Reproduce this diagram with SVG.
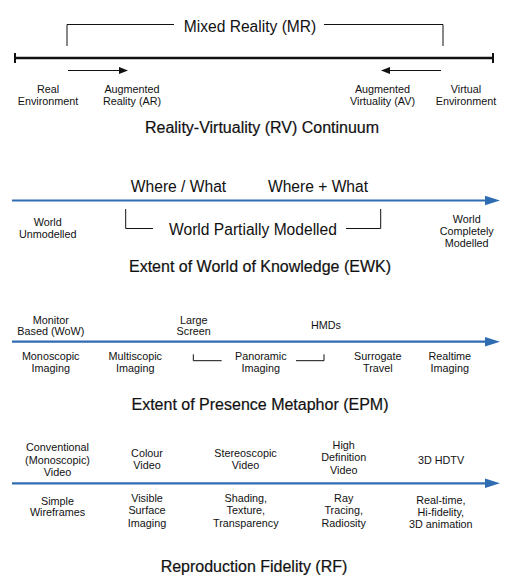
<svg xmlns="http://www.w3.org/2000/svg" width="512" height="588" viewBox="0 0 512 588">
<defs>
<style>
text{font-family:"Liberation Sans",Arial,Helvetica,sans-serif;fill:#111;text-anchor:middle}
.s{font-size:10.8px}
.m{font-size:15.6px}
.t{font-size:16px;stroke:#111;stroke-width:0.2px}
.blk{stroke:#111;fill:none}
.blue{stroke:#2f6db3;stroke-width:2.2;fill:none}
</style>
<marker id="ah" markerWidth="9" markerHeight="7" refX="8" refY="3.5" orient="auto" markerUnits="userSpaceOnUse">
<path d="M0,0 L9,3.5 L0,7 Z" fill="#111"/>
</marker>
</defs>
<rect width="512" height="588" fill="#fff"/>

<g id="connectors">
<!-- RV continuum -->
<line class="blk" x1="15" y1="58" x2="493" y2="58" stroke-width="2.5"/>
<line class="blk" x1="15" y1="53" x2="15" y2="63" stroke-width="2"/>
<line class="blk" x1="493" y1="53" x2="493" y2="63" stroke-width="2"/>
<path class="blk" d="M67,46 V24.5 H174" stroke-width="1"/>
<path class="blk" d="M324,24.5 H443 V46" stroke-width="1"/>
<line class="blk" x1="68" y1="70.5" x2="127" y2="70.5" stroke-width="1.2" marker-end="url(#ah)"/>
<line class="blk" x1="441" y1="70.5" x2="382" y2="70.5" stroke-width="1.2" marker-end="url(#ah)"/>
<!-- EWK -->
<line class="blue" x1="12" y1="200.5" x2="487" y2="200.5"/>
<path d="M485,195.8 L500,200.5 L485,205.2 Z" fill="#2f6db3"/>
<path class="blk" d="M125.7,209 V228.5 H153" stroke-width="1"/>
<path class="blk" d="M346,228.5 H380.7 V209" stroke-width="1"/>
<!-- EPM -->
<line class="blue" x1="12" y1="341.7" x2="487" y2="341.7"/>
<path d="M485,337 L500,341.7 L485,346.4 Z" fill="#2f6db3"/>
<path class="blk" d="M193.3,354.3 V360.7 H221.7" stroke-width="1"/>
<path class="blk" d="M296,360.7 H324 V354.3" stroke-width="1"/>
<!-- RF -->
<line class="blue" x1="12" y1="483.3" x2="487" y2="483.3"/>
<path d="M485,478.6 L500,483.3 L485,488 Z" fill="#2f6db3"/>
</g>

<g id="rv">
<g id="mr-label"><text class="m" x="250" y="32">Mixed Reality (MR)</text></g>
<g id="real-env"><text class="s" x="48"><tspan x="48" y="93">Real</tspan><tspan x="48" y="105">Environment</tspan></text></g>
<g id="ar"><text class="s" x="132"><tspan x="132" y="93">Augmented</tspan><tspan x="132" y="105">Reality (AR)</tspan></text></g>
<g id="av"><text class="s" x="382.5"><tspan x="382.5" y="93">Augmented</tspan><tspan x="382.5" y="105">Virtuality (AV)</tspan></text></g>
<g id="virtual-env"><text class="s" x="466"><tspan x="466" y="93">Virtual</tspan><tspan x="466" y="105">Environment</tspan></text></g>
<g id="rv-title"><text class="t" x="262" y="133">Reality-Virtuality (RV) Continuum</text></g>
</g>

<g id="ewk">
<g id="where-what"><text class="m" x="178.5" y="192">Where / What</text></g>
<g id="where-plus-what"><text class="m" x="318" y="192">Where + What</text></g>
<g id="partial"><text class="m" x="253" y="235">World Partially Modelled</text></g>
<g id="unmodelled"><text class="s"><tspan x="47.7" y="226">World</tspan><tspan x="47.7" y="238">Unmodelled</tspan></text></g>
<g id="complete"><text class="s"><tspan x="466.7" y="223">World</tspan><tspan x="466.7" y="235">Completely</tspan><tspan x="466.7" y="247">Modelled</tspan></text></g>
<g id="ewk-title"><text class="t" x="260" y="272">Extent of World of Knowledge (EWK)</text></g>
</g>

<g id="epm">
<g id="monitor"><text class="s"><tspan x="50.8" y="323.5">Monitor</tspan><tspan x="50.8" y="334.5">Based (WoW)</tspan></text></g>
<g id="large-screen"><text class="s"><tspan x="193.7" y="323.5">Large</tspan><tspan x="193.7" y="335">Screen</tspan></text></g>
<g id="hmds"><text class="s" x="326" y="329">HMDs</text></g>
<g id="mono"><text class="s"><tspan x="50.7" y="360">Monoscopic</tspan><tspan x="50.7" y="372">Imaging</tspan></text></g>
<g id="multi"><text class="s"><tspan x="135.3" y="360">Multiscopic</tspan><tspan x="135.3" y="372">Imaging</tspan></text></g>
<g id="pano"><text class="s"><tspan x="260.8" y="360">Panoramic</tspan><tspan x="260.8" y="372">Imaging</tspan></text></g>
<g id="surrogate"><text class="s"><tspan x="377.8" y="360">Surrogate</tspan><tspan x="377.8" y="372">Travel</tspan></text></g>
<g id="realtime"><text class="s"><tspan x="449.8" y="360">Realtime</tspan><tspan x="449.8" y="372">Imaging</tspan></text></g>
<g id="epm-title"><text class="t" x="260" y="410">Extent of Presence Metaphor (EPM)</text></g>
</g>

<g id="rf">
<g id="conventional"><text class="s"><tspan x="57.5" y="451">Conventional</tspan><tspan x="57.5" y="463.5">(Monoscopic)</tspan><tspan x="57.5" y="476">Video</tspan></text></g>
<g id="colour"><text class="s"><tspan x="147" y="457">Colour</tspan><tspan x="147" y="468.5">Video</tspan></text></g>
<g id="stereo"><text class="s"><tspan x="245.5" y="457">Stereoscopic</tspan><tspan x="245.5" y="468.5">Video</tspan></text></g>
<g id="hd"><text class="s"><tspan x="343.7" y="448.5">High</tspan><tspan x="343.7" y="461">Definition</tspan><tspan x="343.7" y="473.5">Video</tspan></text></g>
<g id="hdtv"><text class="s" x="441" y="463.5">3D HDTV</text></g>
<g id="wireframes"><text class="s"><tspan x="57.5" y="504.5">Simple</tspan><tspan x="57.5" y="516">Wireframes</tspan></text></g>
<g id="visible"><text class="s"><tspan x="147" y="502">Visible</tspan><tspan x="147" y="514">Surface</tspan><tspan x="147" y="526.5">Imaging</tspan></text></g>
<g id="shading"><text class="s"><tspan x="245.8" y="502">Shading,</tspan><tspan x="245.8" y="514">Texture,</tspan><tspan x="245.8" y="526.5">Transparency</tspan></text></g>
<g id="ray"><text class="s"><tspan x="343.7" y="502">Ray</tspan><tspan x="343.7" y="514">Tracing,</tspan><tspan x="343.7" y="526.5">Radiosity</tspan></text></g>
<g id="realtime-anim"><text class="s"><tspan x="440.8" y="503.5">Real-time,</tspan><tspan x="440.8" y="515.5">Hi-fidelity,</tspan><tspan x="440.8" y="528">3D animation</tspan></text></g>
<g id="rf-title"><text class="t" x="254" y="572">Reproduction Fidelity (RF)</text></g>
</g>
</svg>
